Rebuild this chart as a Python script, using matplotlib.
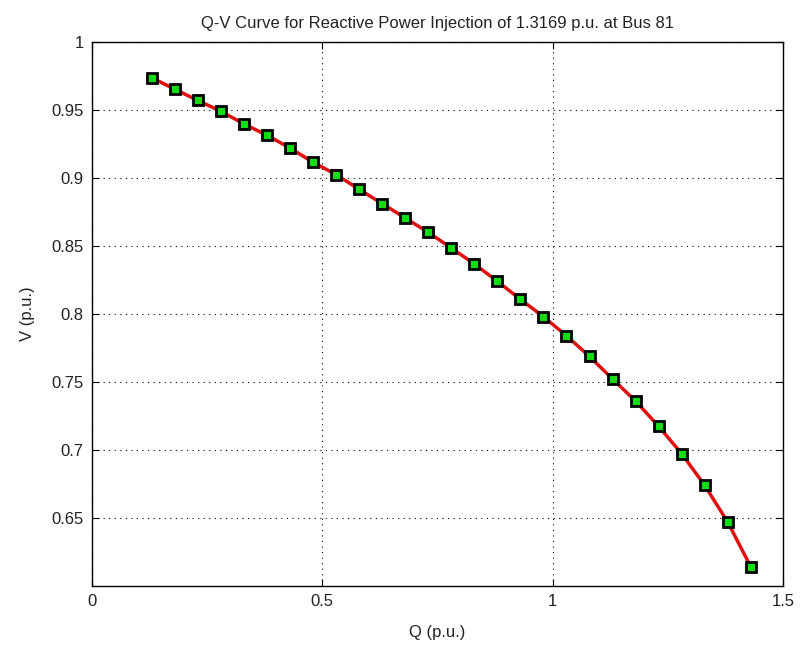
import numpy as np
import matplotlib.pyplot as plt

# reactive power injected (p.u.) and resulting bus voltage (p.u.)
q_vals = [0.13, 0.18, 0.23, 0.28, 0.33, 0.38, 0.43, 0.48, 0.53, 0.58,
          0.63, 0.68, 0.73, 0.78, 0.83, 0.88, 0.93, 0.98, 1.03, 1.08,
          1.13, 1.18, 1.23, 1.28, 1.33, 1.38, 1.43]
v_vals = [0.9737, 0.9652, 0.9570, 0.9490, 0.9397, 0.9314, 0.9220, 0.9115,
          0.9025, 0.8917, 0.8811, 0.8706, 0.8600, 0.8485, 0.8368, 0.8240,
          0.8108, 0.7980, 0.7840, 0.7688, 0.7522, 0.7360, 0.7174, 0.6973,
          0.6740, 0.6470, 0.6142]
x_ticks = [0, 0.5, 1, 1.5]
x_labels = ['0', '0.5', '1', '1.5']
y_ticks = [0.65, 0.7, 0.75, 0.8, 0.85, 0.9, 0.95, 1]
y_labels = ['0.65', '0.7', '0.75', '0.8', '0.85', '0.9', '0.95', '1']

plt.rcParams['font.family'] = ['Liberation Sans', 'DejaVu Sans']
plt.rcParams['font.size'] = 12

fig = plt.figure(figsize=(8.02, 6.5), dpi=100)
ax = fig.add_axes([92 / 802, 64 / 650, 691 / 802, 544 / 650])

ax.plot(q_vals, v_vals, color='#e01010', linewidth=2.5, marker='s',
        markersize=7.5, markerfacecolor='#10dd10', markeredgecolor='black',
        markeredgewidth=2.0, zorder=3)

ax.set_xlim(0, 1.5)
ax.set_ylim(0.6, 1)
ax.set_xticks(x_ticks)
ax.set_xticklabels(x_labels)
ax.set_yticks(y_ticks)
ax.set_yticklabels(y_labels)
ax.tick_params(direction='in', length=5, width=0.8, top=True, right=True,
               pad=6, colors='black', labelcolor='#222222')
ax.grid(True, color='black', linestyle=(0, (1, 4)), linewidth=0.8)
for s in ax.spines.values():
    s.set_linewidth(1.0)

ax.set_title('Q-V Curve for Reactive Power Injection of 1.3169 p.u. at Bus 81',
             pad=10, fontsize=12, color='#222222')
ax.set_xlabel('Q (p.u.)', labelpad=11, color='#222222')
ax.set_ylabel('V (p.u.)', labelpad=12, color='#222222')

fig.savefig('out.png', dpi=100)
